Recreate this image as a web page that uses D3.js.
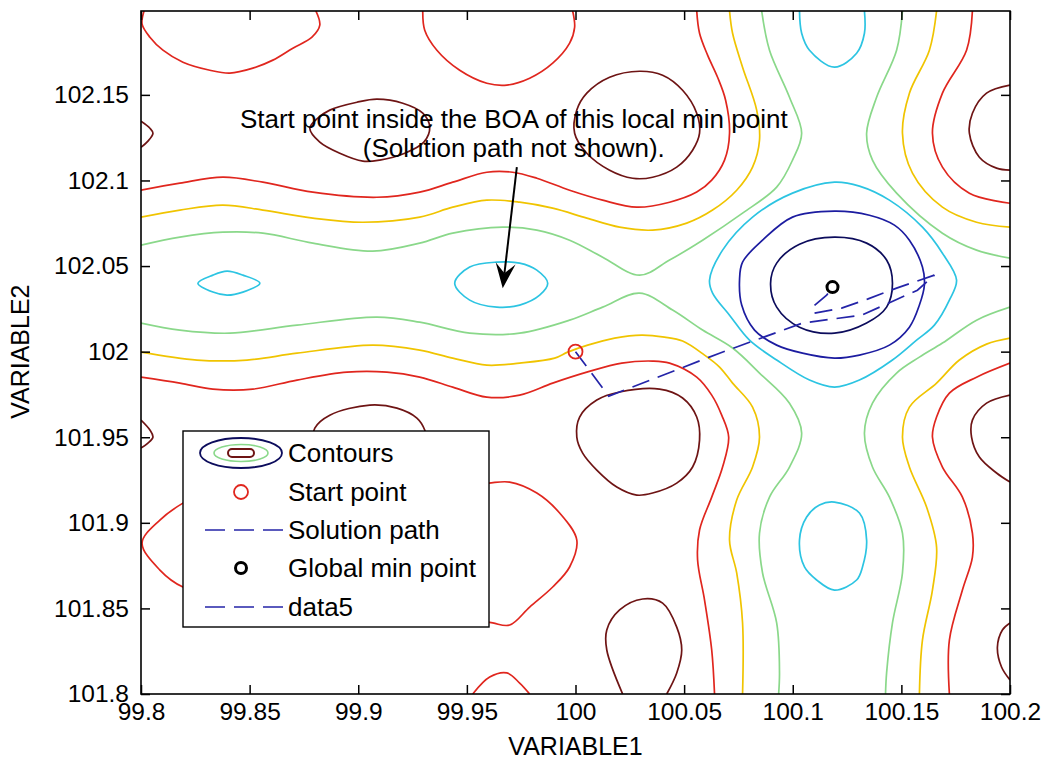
<!DOCTYPE html>
<html>
<head>
<meta charset="utf-8">
<script src="https://cdnjs.cloudflare.com/ajax/libs/d3/7.8.5/d3.min.js"></script>
<style>
  body { margin: 0; background: #fff; }
  svg { display: block; font-family: "Liberation Sans", Arial, sans-serif; }
</style>
</head>
<body>
<script>
// axis ticks
const xTicks = [99.8, 99.85, 99.9, 99.95, 100, 100.05, 100.1, 100.15, 100.2];
const yTicks = [101.8, 101.85, 101.9, 101.95, 102, 102.05, 102.1, 102.15];

// contour lines, one array per level (lowest first)
// each line is a list of [VARIABLE1, VARIABLE2]; first == last means closed
const level1 = [
  [[100.1192,102.0669],[100.134,102.0634],[100.1432,102.0535],[100.1459,102.04],[100.1432,102.026],[100.134,102.0167],[100.1192,102.0108],[100.1031,102.0143],[100.0926,102.026],[100.0898,102.04],[100.0926,102.0517],[100.1031,102.0628],[100.1192,102.0669]]
];
const level2 = [
  [[100.1192,102.0821],[100.1353,102.0797],[100.1468,102.0739],[100.1537,102.0651],[100.1597,102.0494],[100.1606,102.0389],[100.1583,102.0272],[100.1537,102.0143],[100.1445,102.0038],[100.1307,101.998],[100.1192,101.9962],[100.1045,101.9991],[100.0926,102.0038],[100.0824,102.0126],[100.0765,102.0272],[100.0755,102.0418],[100.0769,102.0523],[100.0861,102.0651],[100.0999,102.0786],[100.1192,102.0821]]
];
const level3 = [
  [[99.8262,102.04],[99.8331,102.0447],[99.8396,102.047],[99.8469,102.0447],[99.8547,102.04],[99.8469,102.0348],[99.8396,102.033],[99.8331,102.0348],[99.8262,102.04]],
  [[99.9444,102.04],[99.9513,102.0494],[99.9638,102.0523],[99.9743,102.0517],[99.9822,102.0476],[99.9872,102.04],[99.9835,102.033],[99.9743,102.0272],[99.9638,102.026],[99.9513,102.0301],[99.9444,102.04]],
  [[100.1031,102.199],[100.1041,102.186],[100.1077,102.1761],[100.1192,102.1662],[100.1294,102.1743],[100.133,102.186],[100.133,102.199]],
  [[100.1192,102.099],[100.1307,102.0967],[100.1445,102.0885],[100.1597,102.0727],[100.1689,102.0575],[100.1754,102.0418],[100.1721,102.0301],[100.1652,102.0155],[100.157,102.0067],[100.1459,101.9951],[100.1307,101.9834],[100.1192,101.9793],[100.1077,101.9834],[100.0926,101.9951],[100.0801,102.0067],[100.0709,102.0213],[100.0631,102.0342],[100.0617,102.0418],[100.0677,102.0593],[100.0815,102.0786],[100.0999,102.0926],[100.1192,102.099]],
  [[100.1192,101.9121],[100.1307,101.9057],[100.134,101.8899],[100.1321,101.8742],[100.1294,101.8666],[100.1192,101.8607],[100.111,101.8666],[100.1054,101.8742],[100.1031,101.8899],[100.1064,101.9034],[100.1123,101.9104],[100.1192,101.9121]]
];
const level4 = [
  [[99.8,102.0622],[99.8179,102.0669],[99.8377,102.0698],[99.8561,102.0692],[99.8791,102.0634],[99.9067,102.0587],[99.9283,102.0634],[99.9435,102.0692],[99.9665,102.0727],[99.9822,102.071],[99.9973,102.0651],[100.0125,102.0552],[100.0295,102.0447],[100.0433,102.0535],[100.0585,102.0651],[100.0769,102.0809],[100.0926,102.0961],[100.0999,102.1119],[100.1041,102.1276],[100.0985,102.1486],[100.0893,102.1761],[100.0857,102.199]],
  [[99.8,102.0167],[99.8179,102.0126],[99.8409,102.0108],[99.8718,102.0155],[99.9086,102.0202],[99.9283,102.0172],[99.9513,102.0108],[99.9743,102.0108],[99.9973,102.0184],[100.0125,102.026],[100.0295,102.0342],[100.0447,102.0243],[100.0585,102.0126],[100.0723,102.0021],[100.0847,101.9875],[100.0985,101.9699],[100.1041,101.9524],[100.0985,101.9326],[100.0893,101.915],[100.0847,101.894],[100.0861,101.8707],[100.0926,101.8415],[100.0939,101.8123],[100.0935,101.8]],
  [[100.1505,102.199],[100.1478,102.1761],[100.1386,102.1486],[100.134,102.1276],[100.1367,102.1119],[100.1478,102.0926],[100.1689,102.0692],[100.1846,102.0593],[100.2,102.0546]],
  [[100.2,102.026],[100.1846,102.0184],[100.1689,102.005],[100.1583,101.9968],[100.1478,101.9875],[100.1367,101.9699],[100.133,101.9524],[100.1367,101.9326],[100.1445,101.915],[100.1505,101.894],[100.1505,101.8707],[100.1459,101.8415],[100.1432,101.8123],[100.1427,101.8]]
];
const level5 = [
  [[99.8,102.0786],[99.8179,102.0827],[99.8377,102.0856],[99.8561,102.0827],[99.8791,102.078],[99.9021,102.0756],[99.9283,102.0786],[99.9435,102.0844],[99.9592,102.0885],[99.9743,102.0873],[99.9895,102.0838],[100.0052,102.078],[100.0203,102.0727],[100.0355,102.071],[100.0512,102.0751],[100.0631,102.0827],[100.0742,102.0943],[100.0815,102.1078],[100.0847,102.1235],[100.0834,102.1411],[100.0769,102.1662],[100.0723,102.186],[100.0709,102.199]],
  [[99.8,101.9997],[99.8258,101.9951],[99.8488,101.9951],[99.8718,101.9991],[99.9067,102.0038],[99.9283,102.0009],[99.9435,101.9962],[99.9592,101.9921],[99.9743,101.9933],[99.9904,101.9962],[99.9964,101.9997],[100.0056,102.0038],[100.018,102.0079],[100.0305,102.0097],[100.041,102.0085],[100.0493,102.0062],[100.0594,101.998],[100.0663,101.991],[100.0723,101.9816],[100.0815,101.9676],[100.0847,101.9501],[100.0815,101.9326],[100.0742,101.9133],[100.0709,101.8899],[100.0742,101.8707],[100.0769,101.8415],[100.0769,101.8]],
  [[100.1662,102.199],[100.1629,102.1761],[100.1537,102.151],[100.1505,102.1276],[100.1551,102.1043],[100.1689,102.0844],[100.1846,102.0756],[100.2,102.0727]],
  [[100.2,102.0079],[100.1892,102.0044],[100.1767,101.9951],[100.1662,101.9816],[100.1537,101.9676],[100.1505,101.9501],[100.1537,101.9326],[100.1616,101.9092],[100.1662,101.8858],[100.1643,101.8607],[100.1597,101.8315],[100.1583,101.8]]
];
const level6 = [
  [[99.8014,102.199],[99.8005,102.1913],[99.8041,102.1837],[99.8101,102.1761],[99.8193,102.1691],[99.8317,102.1644],[99.8409,102.1627],[99.8515,102.1656],[99.8607,102.1703],[99.8699,102.1773],[99.8787,102.1837],[99.8823,102.1907],[99.8805,102.199]],
  [[99.9297,102.199],[99.9306,102.1878],[99.9362,102.1761],[99.9467,102.1644],[99.9592,102.1568],[99.9684,102.1557],[99.9789,102.1597],[99.9895,102.1685],[99.9973,102.1802],[99.9996,102.1895],[99.9987,102.199]],
  [[99.8,102.0943],[99.8179,102.0984],[99.8377,102.1019],[99.8561,102.099],[99.8791,102.0932],[99.9086,102.0902],[99.9283,102.0932],[99.9435,102.099],[99.9592,102.1048],[99.9711,102.1048],[99.9822,102.1013],[99.9973,102.0943],[100.0125,102.0885],[100.0282,102.0844],[100.0433,102.0873],[100.0558,102.0932],[100.0627,102.1002],[100.0686,102.1119],[100.0709,102.1276],[100.0691,102.1469],[100.0654,102.1603],[100.0608,102.1732],[100.0571,102.186],[100.0558,102.199]],
  [[99.8,101.9851],[99.8179,101.9816],[99.8331,101.9781],[99.8515,101.9781],[99.8718,101.9834],[99.8948,101.988],[99.9132,101.988],[99.9283,101.9851],[99.9435,101.9793],[99.9592,101.9734],[99.9743,101.9746],[99.9895,101.9816],[100.0052,101.988],[100.0213,101.9933],[100.0355,101.9945],[100.0433,101.9933],[100.0558,101.9851],[100.0627,101.9746],[100.0673,101.9629],[100.0705,101.9501],[100.0677,101.9326],[100.0627,101.915],[100.0571,101.8958],[100.0562,101.8783],[100.0594,101.8549],[100.0627,101.8257],[100.064,101.8]],
  [[100.1827,102.199],[100.18,102.1761],[100.1689,102.151],[100.1643,102.1276],[100.1689,102.1078],[100.1813,102.0926],[100.2,102.0867]],
  [[100.2,101.9933],[100.1846,101.9851],[100.1721,101.9758],[100.1662,101.9618],[100.1643,101.9501],[100.1689,101.9326],[100.1781,101.915],[100.1827,101.894],[100.1827,101.88],[100.1781,101.8607],[100.1721,101.8315],[100.1721,101.8]],
  [[99.8193,101.9115],[99.8087,101.9016],[99.8005,101.8882],[99.8087,101.8724],[99.8193,101.8625],[99.8409,101.8561],[99.8639,101.8607],[99.88,101.8783],[99.8814,101.8899],[99.8731,101.9104],[99.8501,101.9203],[99.8271,101.9162],[99.8193,101.9115]],
  [[99.9601,101.9232],[99.9697,101.9238],[99.9822,101.9174],[99.9927,101.9057],[100.0006,101.8899],[99.9973,101.8742],[99.9895,101.8625],[99.9789,101.8508],[99.9697,101.8403],[99.9619,101.8415],[99.9467,101.8461],[99.9329,101.8666],[99.9306,101.8899],[99.9375,101.9133],[99.9513,101.9221],[99.9601,101.9232]],
  [[99.9527,101.8],[99.9605,101.8099],[99.9684,101.8123],[99.9743,101.8064],[99.9789,101.8]]
];
const level7 = [
  [[99.8777,102.1305],[99.8814,102.1364],[99.8869,102.1411],[99.8994,102.1457],[99.9086,102.1475],[99.9205,102.1451],[99.9297,102.1393],[99.9329,102.1311],[99.9302,102.1224],[99.9214,102.1159],[99.9099,102.1119],[99.9021,102.1113],[99.8915,102.1159],[99.8823,102.1224],[99.8777,102.1305]],
  [[100.0006,102.1411],[100.0052,102.151],[100.0157,102.1603],[100.0295,102.1638],[100.0401,102.1615],[100.0493,102.1527],[100.0558,102.1393],[100.0571,102.1276],[100.0539,102.1177],[100.0466,102.1078],[100.0355,102.1019],[100.0263,102.1013],[100.0157,102.106],[100.0052,102.1159],[99.9996,102.1276],[100.0006,102.1411]],
  [[100.2,102.1557],[100.1892,102.151],[100.1827,102.1393],[100.1813,102.1276],[100.1859,102.1136],[100.1938,102.1072],[100.2,102.106]],
  [[99.8,102.1346],[99.8041,102.1305],[99.8055,102.1276],[99.8032,102.123],[99.8,102.1194]],
  [[99.8,101.96],[99.8041,101.9542],[99.8055,101.9501],[99.8032,101.9466],[99.8,101.9437]],
  [[99.88,101.9553],[99.8869,101.9629],[99.9053,101.9688],[99.9178,101.967],[99.927,101.9612],[99.9306,101.9542],[99.932,101.9425],[99.9283,101.9308],[99.9191,101.9221],[99.9053,101.9191],[99.8915,101.9221],[99.8823,101.9308],[99.8791,101.9425],[99.88,101.9553]],
  [[100.0006,101.9501],[100.0019,101.9618],[100.0098,101.9717],[100.0203,101.9764],[100.0387,101.9781],[100.0493,101.9729],[100.0558,101.9618],[100.0571,101.9483],[100.0539,101.9326],[100.0466,101.9232],[100.0355,101.9174],[100.0282,101.9162],[100.019,101.9209],[100.0098,101.9308],[100.0033,101.9407],[100.0006,101.9501]],
  [[100.0217,101.8],[100.0144,101.8257],[100.0144,101.8374],[100.0203,101.8491],[100.0309,101.8555],[100.0401,101.8531],[100.0466,101.8391],[100.0489,101.8257],[100.0466,101.8123],[100.042,101.8]],
  [[100.2,101.9746],[100.1892,101.9699],[100.1827,101.96],[100.1823,101.9501],[100.1859,101.9384],[100.1938,101.9291],[100.2,101.9238]],
  [[100.2,101.8415],[100.1965,101.8374],[100.1942,101.8274],[100.1961,101.8158],[100.2,101.8082]]
];

const startPoint = [100, 102];
const globalMin = [100.1183, 102.0377];
const solutionPath = [[100,102],[100.0153,101.974],[100.0663,101.9991],[100.1045,102.0167],[100.1317,102.0213],[100.1574,102.0359],[100.1652,102.0447]];
const data5 = [[100.1652,102.0447],[100.1478,102.0371],[100.1344,102.0307],[100.1225,102.0254],[100.11,102.0225],[100.1091,102.026],[100.1156,102.033],[100.1183,102.0377]];

const arrowTail = [99.973, 102.1078];
const arrowHead = [99.9665, 102.0371];
const noteAnchor = [99.9716, 102.1305];
const noteLines = ["Start point inside the BOA of this local min point", "(Solution path not shown)."];
const legendLabels = ["Contours", "Start point", "Solution path", "Global min point", "data5"];

// styles
const levelColors = ["#0c0c5c", "#1c1ca0", "#2cc4e2", "#8ad88a", "#f0c400", "#e0261e", "#6e1414"];
const pathColor = "#2424a8";
const tickFont = 24.5;
const textFont = 26;
const titleFont = 25;

const margin = {top: 11, left: 141, right: 34, bottom: 69};
const W = 1044, H = 763;
const width = W - margin.left - margin.right;
const height = H - margin.top - margin.bottom;

const x = d3.scaleLinear().domain([99.8, 100.2]).range([0, width]);
const y = d3.scaleLinear().domain([101.8, 102.199]).range([height, 0]);

const svg = d3.select("body").append("svg")
  .attr("width", W).attr("height", H);

const g = svg.append("g")
  .attr("transform", `translate(${margin.left},${margin.top})`);

g.append("clipPath").attr("id", "plotClip")
  .append("rect").attr("width", width).attr("height", height);

const plot = g.append("g").attr("clip-path", "url(#plotClip)");

function isClosed(pts) {
  const a = pts[0], b = pts[pts.length - 1];
  return a[0] === b[0] && a[1] === b[1];
}
const openLine = d3.line().x(d => x(d[0])).y(d => y(d[1])).curve(d3.curveCatmullRom.alpha(0.5));
const closedLine = d3.line().x(d => x(d[0])).y(d => y(d[1])).curve(d3.curveCatmullRomClosed.alpha(0.5));

const levels = [level1, level2, level3, level4, level5, level6, level7];
levels.forEach((lines, i) => {
  plot.selectAll(null)
    .data(lines)
    .enter().append("path")
    .attr("d", d => isClosed(d) ? closedLine(d.slice(0, -1)) : openLine(d))
    .attr("fill", "none")
    .attr("stroke", levelColors[i])
    .attr("stroke-width", 1.7);
});

// solution path and data5
const straight = d3.line().x(d => x(d[0])).y(d => y(d[1]));
[solutionPath, data5].forEach(p => {
  plot.append("path")
    .attr("d", straight(p))
    .attr("fill", "none")
    .attr("stroke", pathColor)
    .attr("stroke-width", 1.7)
    .attr("stroke-dasharray", "18,9");
});

plot.append("circle")
  .attr("cx", x(startPoint[0])).attr("cy", y(startPoint[1])).attr("r", 7)
  .attr("fill", "none").attr("stroke", "#e0261e").attr("stroke-width", 1.8);

plot.append("circle")
  .attr("cx", x(globalMin[0])).attr("cy", y(globalMin[1])).attr("r", 5.5)
  .attr("fill", "none").attr("stroke", "#000").attr("stroke-width", 3);

// annotation arrow
{
  const tx = x(arrowTail[0]), ty = y(arrowTail[1]);
  const hx = x(arrowHead[0]), hy = y(arrowHead[1]);
  const len = Math.hypot(hx - tx, hy - ty);
  const ux = (hx - tx) / len, uy = (hy - ty) / len;
  const nx = -uy, ny = ux;
  const L = 25, Wd = 10;
  const bx = hx - L * ux, by = hy - L * uy;
  const mx = hx - 0.6 * L * ux, my = hy - 0.6 * L * uy;
  g.append("line")
    .attr("x1", tx).attr("y1", ty).attr("x2", mx).attr("y2", my)
    .attr("stroke", "#000").attr("stroke-width", 2);
  g.append("polygon")
    .attr("points", [[hx, hy], [bx + Wd * nx, by + Wd * ny], [mx, my], [bx - Wd * nx, by - Wd * ny]].map(p => p.join(",")).join(" "))
    .attr("fill", "#000");
}

g.append("text")
  .attr("x", x(noteAnchor[0])).attr("y", y(noteAnchor[1]))
  .attr("text-anchor", "middle")
  .attr("font-size", textFont)
  .selectAll("tspan")
  .data(noteLines)
  .enter().append("tspan")
  .attr("x", x(noteAnchor[0]))
  .attr("dy", (d, i) => i === 0 ? 0 : 29)
  .text(d => d);

// axes, ticks inward on all four sides
const fmt = d => String(d);
g.append("g")
  .attr("transform", `translate(0,${height})`)
  .call(d3.axisBottom(x).tickValues(xTicks).tickFormat(fmt).tickSize(-9).tickSizeOuter(0).tickPadding(9));
g.append("g")
  .call(d3.axisTop(x).tickValues(xTicks).tickFormat("").tickSize(-9).tickSizeOuter(0));
g.append("g")
  .call(d3.axisLeft(y).tickValues(yTicks).tickFormat(fmt).tickSize(-9).tickSizeOuter(0).tickPadding(12));
g.append("g")
  .attr("transform", `translate(${width},0)`)
  .call(d3.axisRight(y).tickValues(yTicks).tickFormat("").tickSize(-9).tickSizeOuter(0));

g.selectAll(".domain").remove();
g.selectAll(".tick line").attr("stroke", "#000").attr("stroke-width", 1.5);
g.selectAll(".tick text")
  .attr("font-size", tickFont)
  .attr("font-family", "'Liberation Sans', Arial, sans-serif")
  .attr("fill", "#000");

g.append("rect")
  .attr("width", width).attr("height", height)
  .attr("fill", "none").attr("stroke", "#000").attr("stroke-width", 1.6);

// axis titles
svg.append("text")
  .attr("x", margin.left + x(100)).attr("y", 755)
  .attr("text-anchor", "middle").attr("font-size", titleFont)
  .text("VARIABLE1");
svg.append("text")
  .attr("transform", `translate(29,${margin.top + y(102)}) rotate(-90)`)
  .attr("text-anchor", "middle").attr("font-size", titleFont)
  .text("VARIABLE2");

// legend
const legend = svg.append("g").attr("transform", "translate(183,431)");
legend.append("rect")
  .attr("width", 306).attr("height", 196)
  .attr("fill", "#fff").attr("stroke", "#000").attr("stroke-width", 1.4);

const rowY = [22, 61, 99, 137, 176];
const iconX = 58;

// contours icon
legend.append("ellipse").attr("cx", iconX).attr("cy", rowY[0]).attr("rx", 41).attr("ry", 15)
  .attr("fill", "none").attr("stroke", levelColors[0]).attr("stroke-width", 1.8);
legend.append("ellipse").attr("cx", iconX).attr("cy", rowY[0]).attr("rx", 27).attr("ry", 8.5)
  .attr("fill", "none").attr("stroke", levelColors[3]).attr("stroke-width", 1.6);
legend.append("rect").attr("x", iconX - 13).attr("y", rowY[0] - 4).attr("width", 26).attr("height", 8)
  .attr("rx", 4).attr("fill", "none").attr("stroke", levelColors[6]).attr("stroke-width", 2);

legend.append("circle").attr("cx", iconX).attr("cy", rowY[1]).attr("r", 7)
  .attr("fill", "none").attr("stroke", "#e0261e").attr("stroke-width", 1.8);
[rowY[2], rowY[4]].forEach(ry => {
  legend.append("line").attr("x1", 22).attr("x2", 100).attr("y1", ry).attr("y2", ry)
    .attr("stroke", pathColor).attr("stroke-width", 1.7).attr("stroke-dasharray", "20,9");
});
legend.append("circle").attr("cx", iconX).attr("cy", rowY[3]).attr("r", 5.5)
  .attr("fill", "none").attr("stroke", "#000").attr("stroke-width", 3);

legend.selectAll("text.lbl")
  .data(legendLabels)
  .enter().append("text")
  .attr("class", "lbl")
  .attr("x", 105)
  .attr("y", (d, i) => rowY[i] + 9)
  .attr("font-size", textFont)
  .text(d => d);
</script>
</body>
</html>
